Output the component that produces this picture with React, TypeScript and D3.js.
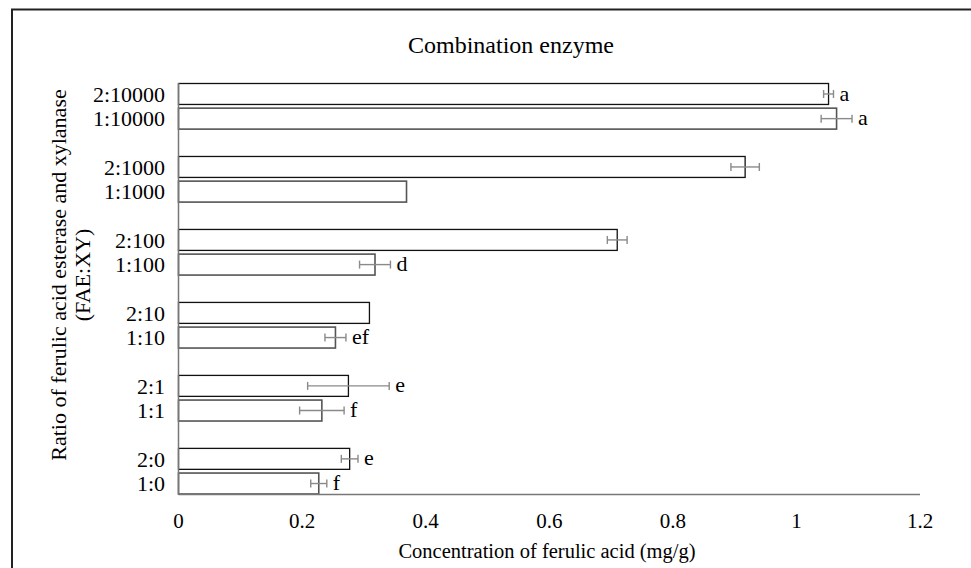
import React from "react";
import * as d3 from "d3";

// Ratio groups, top to bottom; each group holds a "2:" bar above a "1:" bar
const groups = ["10000", "1000", "100", "10", "1", "0"];
const seriesKeys = ["2", "1"];

// Ferulic acid concentration (mg/g), indexed [group][series]
const meanValues = [
  [1.052, 1.065],
  [0.917, 0.369],
  [0.71, 0.318],
  [0.309, 0.254],
  [0.275, 0.232],
  [0.277, 0.227],
];
const errorValues = [
  [0.008, 0.025],
  [0.023, 0],
  [0.016, 0.025],
  [0, 0.017],
  [0.066, 0.036],
  [0.0135, 0.013],
];
const letterLabels = [
  ["a", "a"],
  ["", ""],
  ["", "d"],
  ["", "ef"],
  ["e", "f"],
  ["e", "f"],
];
const xTicks = [0, 0.2, 0.4, 0.6, 0.8, 1, 1.2];

const W = 971;
const H = 568;
const FONT = "'Liberation Serif', 'Times New Roman', serif";

export default function App() {
  const x = d3.scaleLinear().domain([0, 1.2]).range([178.5, 920]);
  const yGroup = d3
    .scaleBand<string>()
    .domain(groups)
    .range([83.5, 494])
    .paddingInner(0.375)
    .paddingOuter(0);
  const ySeries = d3
    .scaleBand<string>()
    .domain(seriesKeys)
    .range([0, yGroup.bandwidth()])
    .paddingInner(0.15)
    .paddingOuter(0);

  const bars = groups.flatMap((g, gi) =>
    seriesKeys.map((s, si) => ({
      label: `${s}:${g}`,
      series: s,
      value: meanValues[gi][si],
      err: errorValues[gi][si],
      letter: letterLabels[gi][si],
      y: (yGroup(g) as number) + (ySeries(s) as number),
    }))
  );
  const bh = ySeries.bandwidth();
  const fmt = (v: number) => (v === 0 ? "0" : d3.format("~g")(v));

  return (
    <svg
      width={W}
      height={H}
      style={{ position: "absolute", left: 0, top: 0, background: "#fff" }}
      fontFamily={FONT}
    >
      <rect x={0} y={0} width={W} height={H} fill="#fff" />
      {/* outer frame */}
      <rect x={12} y={9.5} width={W + 20} height={H + 20} fill="none" stroke="#222" strokeWidth={2} />

      <text x={511} y={53} fontSize={24} textAnchor="middle" fill="#000">
        Combination  enzyme
      </text>

      {/* bars */}
      {bars.map((b) => (
        <rect
          key={b.label}
          x={x(0)}
          y={b.y}
          width={x(b.value) - x(0)}
          height={bh}
          fill="#fff"
          stroke={b.series === "2" ? "#111" : "#555"}
          strokeWidth={b.series === "2" ? 1.3 : 1.6}
        />
      ))}

      {/* error bars */}
      {bars
        .filter((b) => b.err > 0)
        .map((b) => {
          const cy = b.y + bh / 2;
          const x1 = x(b.value - b.err);
          const x2 = x(b.value + b.err);
          return (
            <g key={"e" + b.label} stroke="#8a8a8a" strokeWidth={1.4}>
              <line x1={x1} x2={x2} y1={cy} y2={cy} />
              <line x1={x1} x2={x1} y1={cy - 4} y2={cy + 4} />
              <line x1={x2} x2={x2} y1={cy - 4} y2={cy + 4} />
            </g>
          );
        })}

      {/* significance letters */}
      {bars
        .filter((b) => b.letter)
        .map((b) => (
          <text
            key={"l" + b.label}
            x={x(b.value + b.err) + 6}
            y={b.y + bh / 2}
            dy="0.3em"
            fontSize={22}
            fill="#000"
          >
            {b.letter}
          </text>
        ))}

      {/* category labels */}
      {bars.map((b) => (
        <text
          key={"c" + b.label}
          x={165}
          y={b.y + bh / 2}
          dy="0.35em"
          fontSize={22}
          textAnchor="end"
          fill="#000"
        >
          {b.label}
        </text>
      ))}

      {/* axes */}
      <line x1={x(0)} x2={x(0)} y1={83} y2={494.5} stroke="#777" strokeWidth={1.5} />
      <line x1={x(0)} x2={x(1.2)} y1={494.5} y2={494.5} stroke="#777" strokeWidth={1.5} />
      {xTicks.map((t) => (
        <text key={"t" + t} x={x(t)} y={528} fontSize={21} textAnchor="middle" fill="#000">
          {fmt(t)}
        </text>
      ))}

      <text x={547} y={558} fontSize={20.5} textAnchor="middle" fill="#000">
        Concentration of ferulic acid (mg/g)
      </text>

      <g transform="translate(0,275) rotate(-90)">
        <text x={0} y={66} fontSize={22} textAnchor="middle" fill="#000">
          Ratio of ferulic acid esterase and xylanase
        </text>
        <text x={0} y={90} fontSize={22} textAnchor="middle" fill="#000">
          (FAE:XY)
        </text>
      </g>
    </svg>
  );
}
